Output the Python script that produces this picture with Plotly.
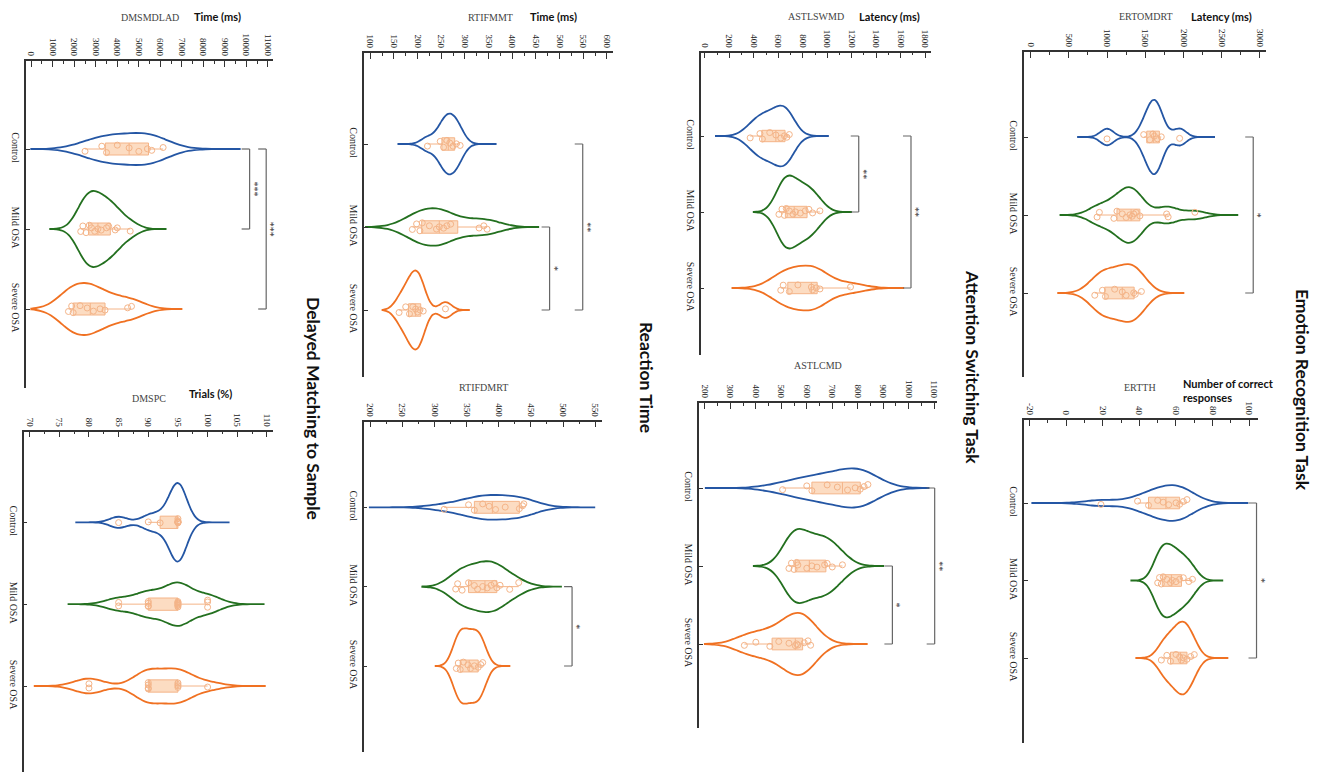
import plotly.graph_objects as go

# ---- data ---------------------------------------------------------------
groups = ['Control', 'Mild OSA', 'Severe OSA']

# Emotion Recognition Task
ertomdrt_control = [1000, 1480, 1560, 1600, 1620, 1660, 1710, 1950]
ertomdrt_mild = [870, 900, 1090, 1130, 1200, 1250, 1300, 1330, 1350, 1380, 1430, 1780, 1800, 2150]
ertomdrt_severe = [840, 940, 980, 1100, 1200, 1250, 1350, 1370, 1450]
ertomdrt_spans = [[609, 2413], [391, 2717], [361, 2000]]
ertomdrt_ticks = [0, 500, 1000, 1500, 2000, 2500, 3000]
ertomdrt_sig = [('Control', 'Severe OSA', 2913, '*')]

ertth_control = [19, 39, 45, 50, 53, 56, 60, 62, 64, 66]
ertth_mild = [50, 51, 52, 53, 55, 57, 58, 60, 62, 64, 67, 69]
ertth_severe = [52, 55, 57, 60, 62, 63, 64, 66, 68, 70]
ertth_spans = [[-19, 99.5], [35.6, 85.8], [38.3, 88.6]]
ertth_ticks = [-20, 0, 20, 40, 60, 80, 100]
ertth_sig = [('Control', 'Severe OSA', 104, '*')]

# Attention Switching Task
astlswmd_control = [370, 450, 470, 530, 580, 620, 650, 670, 690]
astlswmd_mild = [605, 630, 650, 665, 690, 720, 740, 780, 820, 850, 880, 940]
astlswmd_severe = [620, 640, 690, 760, 870, 880, 910, 940, 1190]
astlswmd_spans = [[90, 1013], [399, 1195], [225, 1621]]
astlswmd_ticks = [0, 200, 400, 600, 800, 1000, 1200, 1400, 1600, 1800]
astlswmd_sig = [('Control', 'Mild OSA', 1257, '**'), ('Control', 'Severe OSA', 1684, '**')]

astlcmd_control = [505, 600, 620, 680, 720, 760, 790, 810, 825, 840]
astlcmd_mild = [530, 540, 550, 560, 565, 600, 620, 640, 670, 680, 700, 740]
astlcmd_severe = [355, 400, 455, 490, 530, 555, 560, 565, 590, 605, 615]
astlcmd_spans = [[200, 1078], [392, 900], [200, 839]]
astlcmd_ticks = [200, 300, 400, 500, 600, 700, 800, 900, 1000, 1100]
astlcmd_sig = [('Control', 'Severe OSA', 1102, '**'), ('Mild OSA', 'Severe OSA', 936, '*')]

# Reaction Time
rtifmmt_control = [221, 248, 255, 262, 268, 275, 282, 290]
rtifmmt_mild = [189, 198, 205, 210, 225, 240, 246, 255, 262, 270, 330, 340, 347]
rtifmmt_severe = [161, 175, 183, 190, 196, 200, 205, 212, 259]
rtifmmt_spans = [[157.6, 367], [91, 455], [126, 308.6]]
rtifmmt_ticks = [100, 150, 200, 250, 300, 350, 400, 450, 500, 550, 600]
rtifmmt_sig = [('Control', 'Severe OSA', 549, '**'), ('Mild OSA', 'Severe OSA', 479, '*')]

rtifdmrt_control = [315, 353, 362, 375, 385, 395, 410, 432, 437, 439]
rtifdmrt_mild = [333, 336, 343, 353, 362, 367, 375, 382, 388, 393, 397, 402, 417, 431]
rtifdmrt_severe = [334, 337, 340, 345, 352, 356, 362, 368, 372, 375]
rtifdmrt_spans = [[198, 550], [281, 496.8], [301.8, 418]]
rtifdmrt_ticks = [200, 250, 300, 350, 400, 450, 500, 550]
rtifdmrt_sig = [('Mild OSA', 'Severe OSA', 514, '*')]

# Delayed Matching to Sample
dmsmdlad_control = [2500, 3280, 3500, 4000, 4550, 5000, 5400, 5600, 6130]
dmsmdlad_mild = [2300, 2400, 2550, 2700, 2800, 2950, 3100, 3250, 3500, 3600, 3900, 4000, 4600]
dmsmdlad_severe = [1730, 1880, 1950, 2270, 2600, 2890, 3200, 3430, 4480, 4660]
dmsmdlad_spans = [[0, 9733], [880, 6288], [0, 6983]]
dmsmdlad_ticks = [0, 1000, 2000, 3000, 4000, 5000, 6000, 7000, 8000, 9000, 10000, 11000]
dmsmdlad_sig = [('Control', 'Mild OSA', 10150, '***'), ('Control', 'Severe OSA', 10920, '***')]

dmspc_control = [85, 90, 92, 95, 95, 95, 95, 95, 95, 95]
dmspc_mild = [85, 85, 90, 90, 90, 90, 95, 95, 95, 95, 95, 95, 95, 100, 100, 100]
dmspc_severe = [80, 80, 90, 90, 90, 90, 95, 95, 95, 95, 100]
dmspc_spans = [[77.7, 103.7], [76.4, 109.6], [70.7, 109.8]]
dmspc_ticks = [70, 75, 80, 85, 90, 95, 100, 105, 110]
dmspc_sig = []

task_titles = ['Emotion Recognition Task', 'Attention Switching Task',
               'Reaction Time', 'Delayed Matching to Sample']

# ---- styling ------------------------------------------------------------
# the page body keeps an 8px margin, so the figure is drawn 8px in from the corner
OFF = 8
W, H = 1325 - 2 * OFF, 780 - 2 * OFF
colors = {'Control': '#2456a4', 'Mild OSA': '#23701f', 'Severe OSA': '#f07122'}
BOX_FILL = '#fcdcc2'
BOX_LINE = '#f4b488'
AXIS = '#333333'
SERIF = 'Liberation Serif'
SANS = 'Lato'


def fx(px):
    return (px - OFF) / W


def fy(py):
    return min(1, max(0, 1 - (py - OFF) / H))


# pixel layout of each panel (screen pixels): axis box, tick pixels, category pixels
panels = [
    dict(name='ERTOMDRT', unit='Latency (ms)', data=[ertomdrt_control, ertomdrt_mild, ertomdrt_severe],
         spans=ertomdrt_spans, ticks=ertomdrt_ticks, sig=ertomdrt_sig,
         box=(1025, 1268, 52, 377), tpx=(1031.7, 1261.7), cpx=(137, 293),
         widths=(0.95, 0.71, 0.74), name_xy=(1147, 16), unit_xy=(1223, 16)),
    dict(name='ERTTH', unit='Number of correct<br>responses', data=[ertth_control, ertth_mild, ertth_severe],
         spans=ertth_spans, ticks=ertth_ticks, sig=ertth_sig,
         box=(1025, 1260, 420, 743), tpx=(1030.7, 1251), cpx=(503, 658),
         widths=(0.46, 0.95, 0.94), name_xy=(1141, 387), unit_xy=(1183, 390)),
    dict(name='ASTLSWMD', unit='Latency (ms)', data=[astlswmd_control, astlswmd_mild, astlswmd_severe],
         spans=astlswmd_spans, ticks=astlswmd_ticks, sig=astlswmd_sig,
         box=(700.7, 931.7, 52.7, 355), tpx=(705, 926), cpx=(136, 288),
         widths=(0.80, 0.96, 0.59), name_xy=(816, 16), unit_xy=(890, 16)),
    dict(name='ASTLCMD', unit=None, data=[astlcmd_control, astlcmd_mild, astlcmd_severe],
         spans=astlcmd_spans, ticks=astlcmd_ticks, sig=astlcmd_sig,
         box=(699, 938, 403, 728), tpx=(705, 935), cpx=(488, 644),
         widths=(0.50, 0.95, 0.80), name_xy=(818, 365), unit_xy=None),
    dict(name='RTIFMMT', unit='Time (ms)', data=[rtifmmt_control, rtifmmt_mild, rtifmmt_severe],
         spans=rtifmmt_spans, ticks=rtifmmt_ticks, sig=rtifmmt_sig,
         box=(363, 613.3, 53, 377), tpx=(369.3, 606.7), cpx=(144, 310),
         widths=(0.73, 0.45, 0.95), name_xy=(490, 18), unit_xy=(553, 16)),
    dict(name='RTIFDMRT', unit=None, data=[rtifdmrt_control, rtifdmrt_mild, rtifdmrt_severe],
         spans=rtifdmrt_spans, ticks=rtifdmrt_ticks, sig=rtifdmrt_sig,
         box=(362.7, 601.7, 421.7, 751.7), tpx=(369.3, 595), cpx=(507.3, 666),
         widths=(0.31, 0.64, 0.95), name_xy=(483, 387), unit_xy=None),
    dict(name='DMSMDLAD', unit='Time (ms)', data=[dmsmdlad_control, dmsmdlad_mild, dmsmdlad_severe],
         spans=dmsmdlad_spans, ticks=dmsmdlad_ticks, sig=dmsmdlad_sig,
         box=(24, 271.7, 61, 388), tpx=(29.3, 266.7), cpx=(149, 309),
         widths=(0.40, 0.95, 0.65), name_xy=(148, 17), unit_xy=(216, 16)),
    dict(name='DMSPC', unit='Trials (%)', data=[dmspc_control, dmspc_mild, dmspc_severe],
         spans=dmspc_spans, ticks=dmspc_ticks, sig=dmspc_sig,
         box=(21.7, 271.7, 431.7, 776.7), tpx=(27.7, 265.7), cpx=(522.3, 686),
         widths=(0.96, 0.53, 0.43), name_xy=(147, 398), unit_xy=(209, 394)),
]
title_xy = [(1305, 390), (974, 367), (647, 377), (313, 408)]

fig = go.Figure()
layout = {}
shapes = []
annotations = []

for k, p in enumerate(panels, start=1):
    left, right, top, bottom = p['box']
    bottom_fig = min(bottom, OFF + H)
    t0, t1 = p['ticks'][0], p['ticks'][-1]
    a0, a1 = p['tpx']
    upx = (a1 - a0) / (t1 - t0)
    xr = [t0 + (left - a0) / upx, t0 + (right - a0) / upx]
    c0, c2 = p['cpx']
    cpx = (c2 - c0) / 2
    yr = [2 + (bottom_fig - c2) / cpx, (top - c0) / cpx]

    for g, vals, span, w in zip(groups, p['data'], p['spans'], p['widths']):
        fig.add_trace(go.Violin(
            x=vals, y=[g] * len(vals), orientation='h', name=g,
            xaxis=f'x{k}', yaxis=f'y{k}',
            line=dict(color=colors[g], width=1.8), fillcolor='rgba(255,255,255,0)',
            spanmode='manual', span=span, width=w, scalemode='width',
            scalegroup=f'{k}-{g}',
            box=dict(visible=True, width=min(1, 0.15 / w), fillcolor=BOX_FILL,
                     line=dict(color=BOX_LINE, width=1)),
            meanline=dict(visible=False),
            points='all', pointpos=0, jitter=min(1, 0.12 / w),
            marker=dict(symbol='circle-open', size=6, color=BOX_LINE,
                        line=dict(width=1, color=BOX_LINE)),
            showlegend=False, hoverinfo='x'))

    ticks = p['ticks']
    minor = [(ticks[i] + ticks[i + 1]) / 2 for i in range(len(ticks) - 1)]
    layout[f'xaxis{k}'] = dict(
        domain=[fx(left), fx(right)], range=xr, anchor=f'y{k}', side='top',
        tickvals=ticks, ticktext=[str(t) for t in ticks], tickangle=90,
        ticks='inside', ticklen=6, tickwidth=1.2, tickcolor=AXIS,
        showline=True, linecolor=AXIS, linewidth=1.5,
        showgrid=False, zeroline=False,
        tickfont=dict(family=SERIF, size=9, color='#222'),
        minor=dict(tickvals=minor, ticks='inside', ticklen=3, tickcolor=AXIS, tickwidth=1),
    )
    layout[f'yaxis{k}'] = dict(
        domain=[fy(bottom_fig), fy(top)], range=yr, anchor=f'x{k}',
        type='category', categoryorder='array', categoryarray=groups,
        tickangle=90, ticks='inside', ticklen=4, tickcolor=AXIS,
        showline=True, linecolor=AXIS, linewidth=1.5,
        showgrid=False, zeroline=False,
        tickfont=dict(family=SERIF, size=10, color='#222'),
    )

    # significance brackets
    for ga, gb, bx, star in p['sig']:
        ia, ib = groups.index(ga), groups.index(gb)
        common = dict(type='line', xref=f'x{k}', yref=f'y{k}', xsizemode='pixel',
                      xanchor=bx, line=dict(color='#666', width=1.2))
        shapes.append(dict(common, x0=0, x1=0, y0=ia, y1=ib))
        shapes.append(dict(common, x0=-8, x1=0, y0=ia, y1=ia))
        shapes.append(dict(common, x0=-8, x1=0, y0=ib, y1=ib))
        annotations.append(dict(x=bx, y=(ia + ib) / 2, xref=f'x{k}', yref=f'y{k}',
                                text=star, showarrow=False, textangle=90, xshift=5,
                                xanchor='center', yanchor='middle',
                                font=dict(family=SERIF, size=10, color='#333')))

    nx, ny = p['name_xy']
    annotations.append(dict(x=fx(nx), y=fy(ny), xref='paper', yref='paper',
                            text=p['name'], showarrow=False,
                            xanchor='center', yanchor='middle',
                            font=dict(family=SERIF, size=10, color='#444')))
    if p['unit']:
        ux, uy = p['unit_xy']
        multi = '<br>' in p['unit']
        annotations.append(dict(x=fx(ux), y=fy(uy), xref='paper', yref='paper',
                                text=f"<b>{p['unit']}</b>", showarrow=False,
                                xanchor='left' if multi else 'center', yanchor='middle',
                                align='left',
                                font=dict(family=SANS, size=11, color='#111')))

for t, (tx, ty) in zip(task_titles, title_xy):
    annotations.append(dict(x=fx(tx), y=fy(ty), xref='paper', yref='paper',
                            text=f'<b>{t}</b>', showarrow=False, textangle=90,
                            xanchor='center', yanchor='middle',
                            font=dict(family=SANS, size=17.5, color='#111')))

fig.update_layout(
    width=W, height=H, margin=dict(l=0, r=0, t=0, b=0),
    paper_bgcolor='white', plot_bgcolor='white',
    violinmode='overlay', showlegend=False,
    shapes=shapes, annotations=annotations,
    **layout)

fig.write_html('out.html')
